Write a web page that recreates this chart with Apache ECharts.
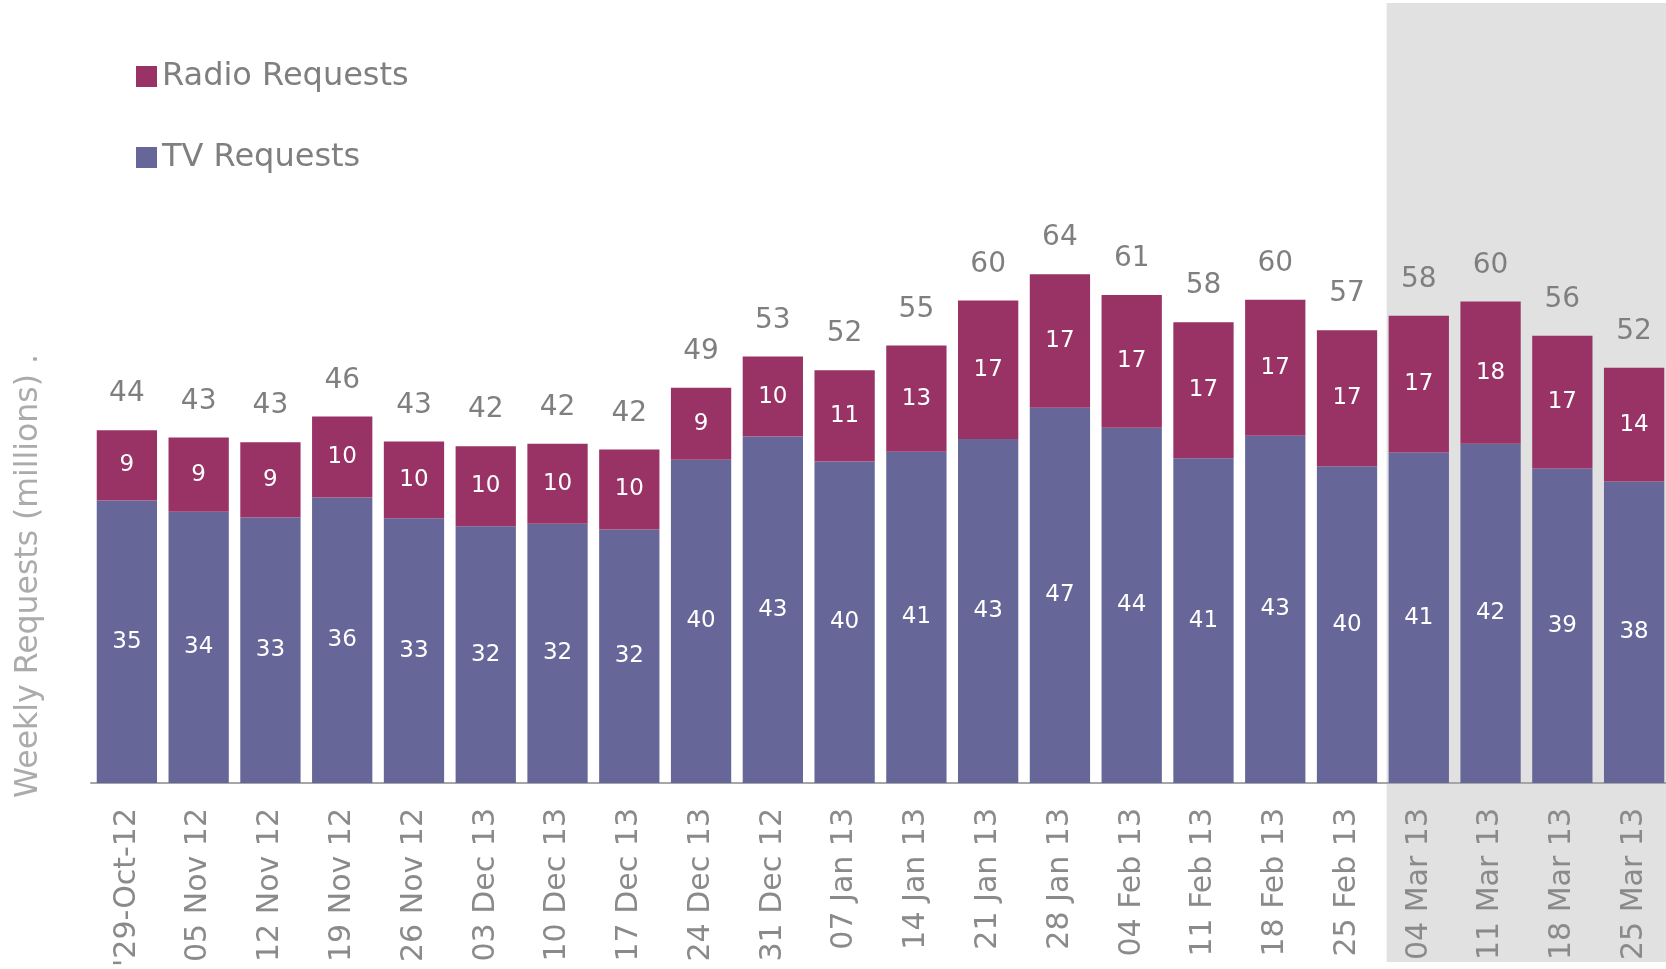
<!DOCTYPE html>
<html>
<head>
<meta charset="utf-8">
<title>Weekly Requests</title>
<script src="https://cdn.jsdelivr.net/npm/echarts/dist/echarts.min.js"></script>
<style>
  html, body { margin: 0; padding: 0; background: #ffffff; }
  #chart { width: 1666px; height: 969px; }
</style>
</head>
<body>
<div id="chart"></div>
<script>
// Week commencing
const weeks = ["'29-Oct-12", '05 Nov 12', '12 Nov 12', '19 Nov 12', '26 Nov 12', '03 Dec 13', '10 Dec 13',
  '17 Dec 13', '24 Dec 13', '31 Dec 12', '07 Jan 13', '14 Jan 13', '21 Jan 13', '28 Jan 13', '04 Feb 13',
  '11 Feb 13', '18 Feb 13', '25 Feb 13', '04 Mar 13', '11 Mar 13', '18 Mar 13', '25 Mar 13'];

// Weekly requests, millions
const tvRequests = [35.3, 33.9, 33.2, 35.7, 33.1, 32.1, 32.4, 31.7, 40.4, 43.3, 40.2, 41.4,
  43.0, 46.9, 44.4, 40.6, 43.4, 39.6, 41.3, 42.4, 39.3, 37.7];
const radioRequests = [8.8, 9.3, 9.4, 10.1, 9.6, 10.0, 10.0, 10.0, 9.0, 10.0, 11.4, 13.3,
  17.3, 16.7, 16.6, 17.0, 17.0, 17.0, 17.1, 17.8, 16.6, 14.2];

// First week of the shaded period
const shadedFrom = '04 Mar 13';

const totals = weeks.map((w, i) => +(tvRequests[i] + radioRequests[i]).toFixed(1));

const FONT = "'DejaVu Sans', Verdana, sans-serif";
const TV_COLOR = '#666699';
const RADIO_COLOR = '#993366';
const BAR_SHARE = 0.84;
const round = p => String(Math.round(p.value));

const chart = echarts.init(document.getElementById('chart'), null, { renderer: 'canvas' });

chart.setOption({
  animation: false,
  backgroundColor: '#ffffff',
  textStyle: { fontFamily: FONT },
  legend: {
    orient: 'vertical',
    left: 131,
    top: 55,
    padding: 5,
    itemWidth: 21,
    itemHeight: 21,
    itemGap: 48,
    icon: 'rect',
    data: ['Radio Requests', 'TV Requests'],
    textStyle: { fontFamily: FONT, fontSize: 32, color: '#7f7f7f', padding: [0, 0, 0, 0], lineHeight: 33 }
  },
  grid: { left: 91, top: 143, width: 1579, height: 640, containLabel: false, outerBoundsMode: 'none' },
  xAxis: {
    type: 'category',
    data: weeks,
    axisTick: { show: false },
    axisLine: { lineStyle: { color: '#a6a6a6', width: 2 } },
    axisLabel: {
      interval: 0,
      rotate: 90,
      margin: 25,
      fontFamily: FONT,
      fontSize: 30,
      color: '#8a8a8a'
    }
  },
  yAxis: {
    type: 'value',
    min: 0,
    max: 80,
    axisLine: { show: false },
    axisTick: { show: false },
    axisLabel: { show: false },
    splitLine: { show: false }
  },
  series: [
    {
      name: 'TV Requests',
      type: 'bar',
      stack: 'requests',
      barCategoryGap: '16%',
      barGap: '-100%',
      data: tvRequests,
      itemStyle: { color: TV_COLOR },
      label: { show: true, position: 'inside', formatter: round, color: '#ffffff', fontFamily: FONT, fontSize: 23 },
      z: 3
    },
    {
      name: 'Radio Requests',
      type: 'bar',
      stack: 'requests',
      barCategoryGap: '16%',
      barGap: '-100%',
      data: radioRequests,
      itemStyle: { color: RADIO_COLOR },
      label: { show: true, position: 'inside', formatter: round, color: '#ffffff', fontFamily: FONT, fontSize: 23 },
      z: 3
    },
    {
      name: 'Total',
      type: 'bar',
      barCategoryGap: '16%',
      barGap: '-100%',
      data: totals,
      silent: true,
      itemStyle: { color: 'rgba(0,0,0,0)' },
      label: { show: true, position: 'top', distance: 22, formatter: round, color: '#7f7f7f', fontFamily: FONT, fontSize: 28 },
      z: 1
    }
  ]
});

// Shaded band behind the latest weeks (starts just left of the first shaded bar),
// and the vertical axis title
const idx = weeks.indexOf(shadedFrom);
const c0 = chart.convertToPixel({ xAxisIndex: 0 }, weeks[idx - 1]);
const c1 = chart.convertToPixel({ xAxisIndex: 0 }, weeks[idx]);
const band = c1 - c0;
const bandLeft = c1 - band * BAR_SHARE / 2 - 2;

chart.setOption({
  graphic: [
    {
      type: 'rect',
      z: -10,
      silent: true,
      shape: { x: bandLeft, y: 3, width: chart.getWidth() - bandLeft, height: 959 },
      style: { fill: '#e1e1e1' }
    },
    {
      type: 'text',
      x: 29,
      y: 576,
      rotation: Math.PI / 2,
      silent: true,
      style: {
        text: 'Weekly Requests (millions) .',
        fontFamily: FONT,
        fontSize: 31.5,
        fill: '#ababab',
        align: 'center',
        verticalAlign: 'middle'
      }
    }
  ]
});
</script>
</body>
</html>
